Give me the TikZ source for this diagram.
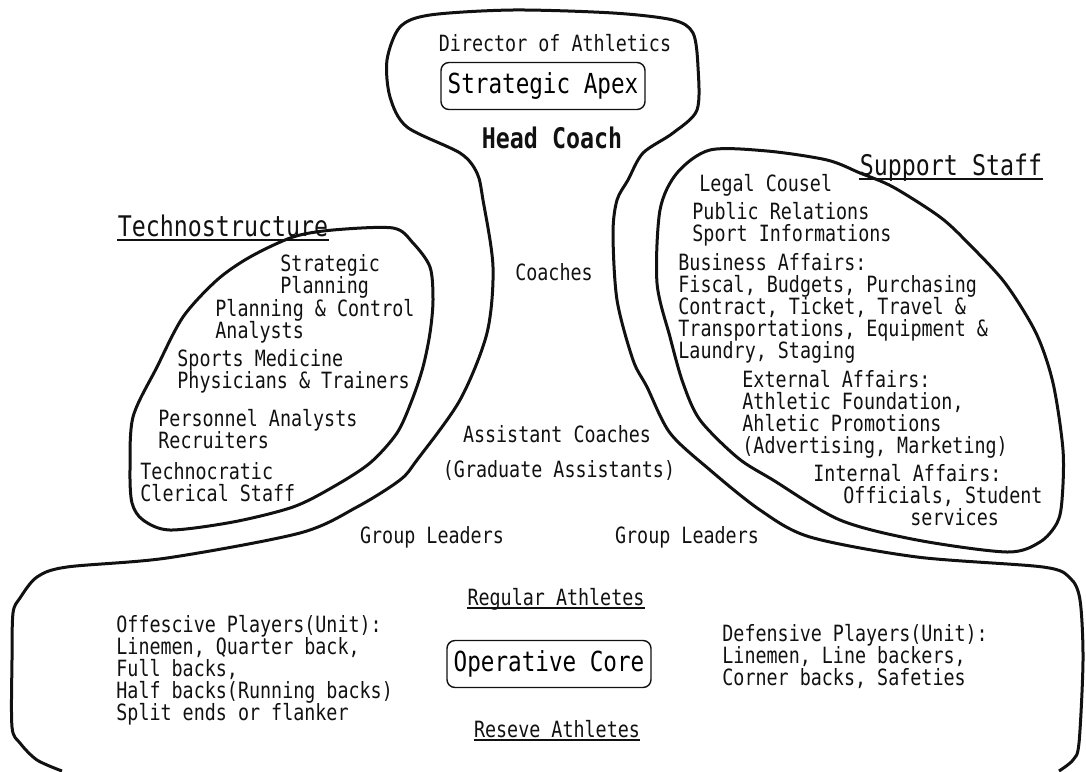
\documentclass[tikz,border=0pt]{standalone}
\usepackage{fontspec}
\usepackage{tikz}
\usetikzlibrary{positioning}
\definecolor{ScanInk}{HTML}{111111}
\newfontfamily\gothic[FakeStretch=0.82]{DejaVu Sans Mono}
\newcommand\txtfont{\gothic\fontsize{11.2}{11}\selectfont}
\newcommand\boxfont{\gothic\fontsize{13.8}{14}\selectfont}
\newcommand\titlefont{\gothic\fontsize{14.2}{14}\selectfont}

\begin{document}
\begin{tikzpicture}[
  x=0.5pt,y=-0.5pt,
  txt/.style={inner sep=0pt,font=\txtfont,text=ScanInk},
  para/.style={txt,anchor=north west,align=left},
  part/.style={rounded corners=4pt,draw=ScanInk,line width=0.7pt,inner sep=0pt,
    minimum width=102pt,minimum height=23.5pt,font=\boxfont},
  title/.style={inner sep=0pt,anchor=base,font=\titlefont,text=ScanInk},
  uline/.style={draw=ScanInk,line width=1pt},
  blob/.style={draw=ScanInk,line width=1.5pt,line join=round}
]
  \useasboundingbox (0,0) rectangle (1086,771);

  % outline of apex, middle line and operating core
  \draw[blob] plot[smooth,tension=0.5] coordinates {
    (62,771) (37,760) (20,743) (12,727) (12,660) (13,613) (20,598) (37,577)
    (67,567) (167,558) (300,533) (357,507) (400,480) (417,460) (460,400)
    (487,333) (493,267) (483,200) (477,173) (460,153) (407,127) (390,97)
    (387,60) (400,27) (430,15) (513,10) (613,13) (673,20) (693,33) (698,67)
    (697,110) (673,133) (643,153) (628,180) (617,200) (613,233) (617,300)
    (633,360) (647,387) (670,433) (710,470) (760,510) (810,537) (917,557)
    (1043,567) (1070,578) (1080,600) (1083,660) (1079,743) (1073,760) (1059,771)};
  % technostructure
  \draw[blob] plot[smooth cycle,tension=0.5] coordinates {
    (293,237) (333,230) (393,228) (413,243) (430,267) (433,300) (430,333)
    (423,367) (412,400) (397,433) (370,463) (333,487) (293,507) (233,522)
    (170,530) (143,520) (132,503) (130,470) (133,417) (157,367) (183,317)
    (217,280) (250,257)};
  % support staff
  \draw[blob] plot[smooth cycle,tension=0.5] coordinates {
    (710,150) (767,151) (827,160) (860,173) (893,187) (940,217) (968,243)
    (1005,283) (1036,333) (1053,383) (1063,450) (1062,500) (1057,523)
    (1040,542) (1007,552) (917,540) (840,520) (773,480) (738,458) (700,420)
    (683,383) (670,337) (657,283) (660,210) (677,173)};

  % strategic apex
  \node[part] (apex) at (543,86) {Strategic Apex};
  \node[txt,above=5pt of apex,xshift=6pt] (director) {Director of Athletics};
  \node[title,font=\titlefont\bfseries] (head) at (552,148) {Head Coach};

  % middle line
  \node[txt,anchor=base] (coaches) at (554,280) {Coaches};
  \node[txt,anchor=base] (asst) at (557,442) {Assistant Coaches};
  \node[txt,below=8.5pt of asst,xshift=1pt] (grad) {(Graduate Assistants)};
  \node[txt,anchor=base] (leadl) at (432,543) {Group Leaders};
  \node[txt,anchor=base] (leadr) at (687,543) {Group Leaders};

  % technostructure
  \node[title] (techno) at (223,236) {Technostructure};
  \draw[uline] ([yshift=-2pt]techno.base west) -- ([yshift=-2pt]techno.base east);
  \node[para] (strat) at (280,254) {Strategic\\Planning};
  \node[para] (pcon) at (215,299) {Planning \& Control\\Analysts};
  \node[para] (medic) at (177,349) {Sports Medicine\\Physicians \& Trainers};
  \node[para] (pers) at (158,409) {Personnel Analysts\\Recruiters};
  \node[para] (clerk) at (140,462) {Technocratic\\Clerical Staff};

  % support staff
  \node[title] (support) at (951,175) {Support Staff};
  \draw[uline] ([yshift=-2pt]support.base west) -- ([yshift=-2pt]support.base east);
  \node[para] (legal) at (699,174) {Legal Cousel};
  \node[para] (pr) at (692,202) {Public Relations\\Sport Informations};
  \node[para] (business) at (678,253) {Business Affairs:\\Fiscal, Budgets, Purchasing\\
    Contract, Ticket, Travel \&\\Transportations, Equipment \&\\Laundry, Staging};
  \node[para] (external) at (742,370) {External Affairs:\\Athletic Foundation,\\
    Ahletic Promotions\\(Advertising, Marketing)};
  \node[para] (internal) at (813,464) {Internal Affairs:\\
    \hspace*{15pt}Officials, Student\\\hspace*{48.5pt}services};

  % operative core
  \node[part] (core) at (549,664) {Operative Core};
  \node[txt,anchor=base] (regular) at (556,605) {Regular Athletes};
  \draw[uline] ([yshift=-1.5pt]regular.base west) -- ([yshift=-1.5pt]regular.base east);
  \node[txt,anchor=base] (reserve) at (557,737) {Reseve Athletes};
  \draw[uline] ([yshift=-1.5pt]reserve.base west) -- ([yshift=-1.5pt]reserve.base east);
  \node[para] (offense) at (116,615) {Offescive Players(Unit):\\Linemen, Quarter back,\\
    Full backs,\\Half backs(Running backs)\\Split ends or flanker};
  \node[para] (defense) at (722,624) {Defensive Players(Unit):\\Linemen, Line backers,\\
    Corner backs, Safeties};
\end{tikzpicture}
\end{document}
